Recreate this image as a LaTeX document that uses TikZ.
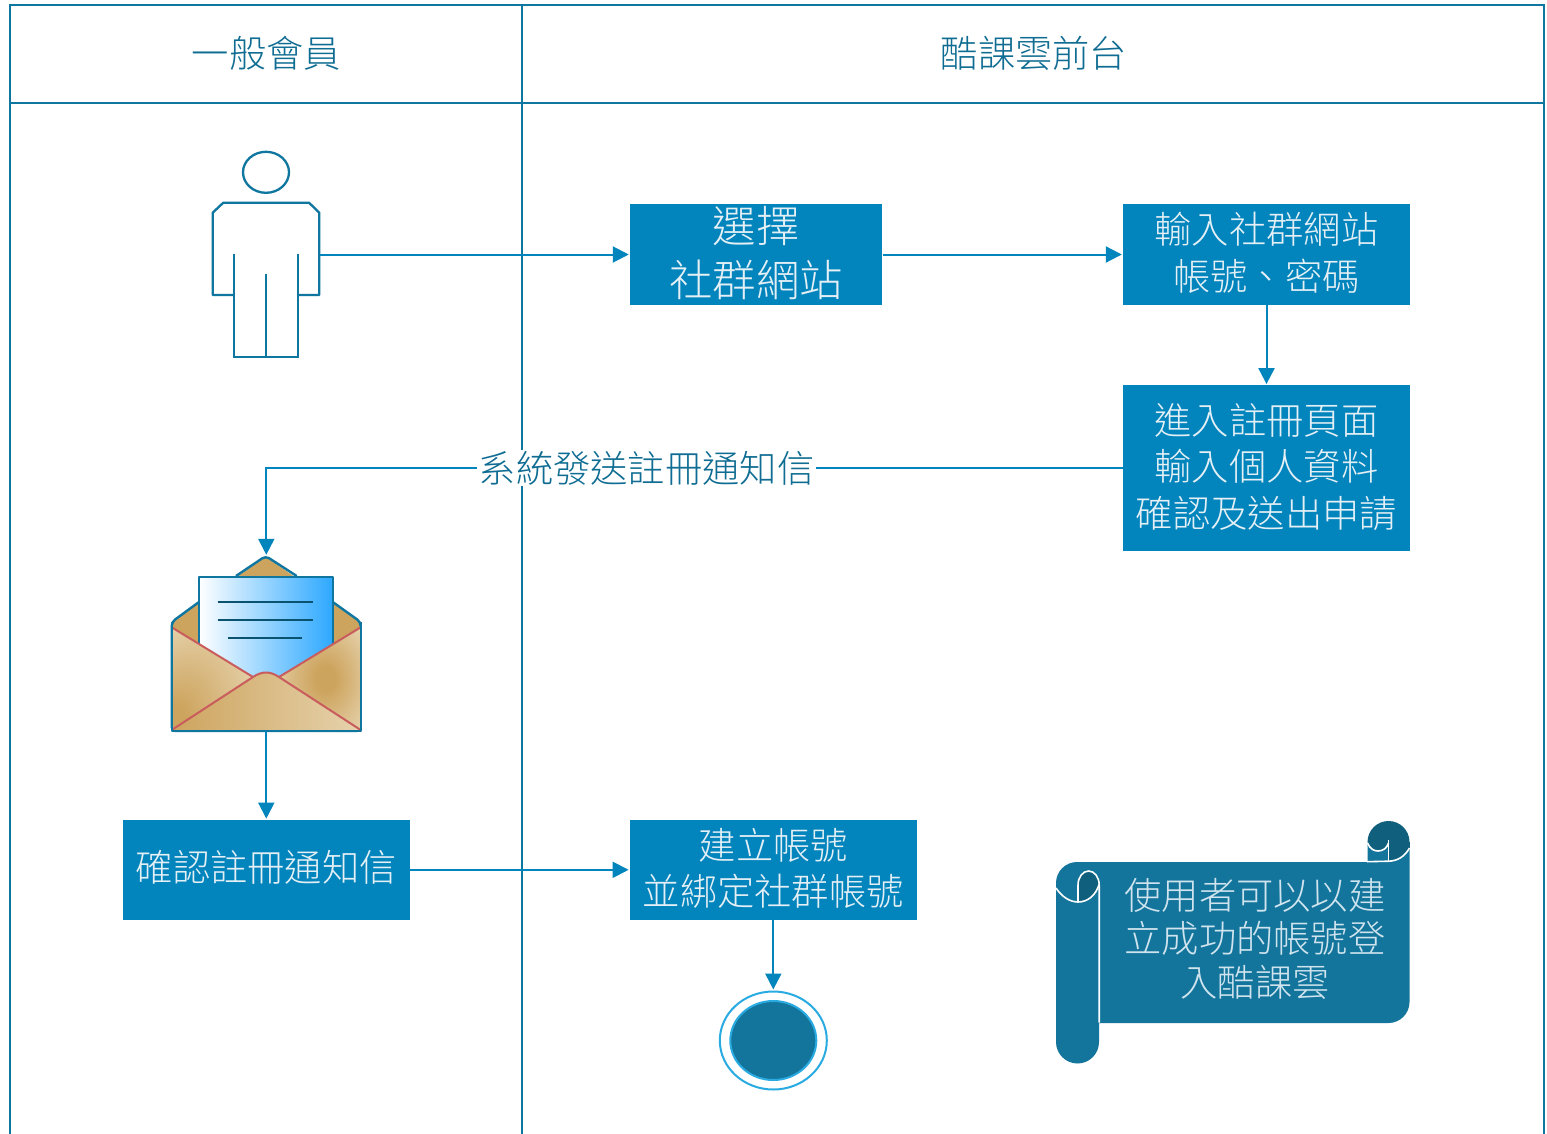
\documentclass[tikz,border=0pt]{standalone}
\usepackage{fontspec}
\setmainfont{Noto Sans CJK TC Light}
\usetikzlibrary{arrows.meta,shapes.geometric}
\definecolor{lane}{HTML}{0F76A0}
\definecolor{boxblue}{HTML}{0284BC}
\definecolor{labelc}{HTML}{0F6C92}
\definecolor{boxtext}{HTML}{E4F0F6}
\definecolor{scrollc}{HTML}{14759C}
\definecolor{scrolld}{HTML}{105F7D}
\definecolor{scrollt}{HTML}{CFE4EE}
\definecolor{tan}{HTML}{CDA45E}
\definecolor{lighttan}{HTML}{E6D2AC}
\definecolor{flapred}{HTML}{C95C5C}
\definecolor{ringc}{HTML}{29ABE2}
\definecolor{paperR}{HTML}{2DA8FF}
\definecolor{paperM}{HTML}{C4E3FF}
\pgfdeclareradialshading{flapR}{\pgfpoint{4bp}{0bp}}{color(0bp)=(tan);color(6bp)=(tan);color(34bp)=(lighttan);color(50bp)=(lighttan)}
\pgfdeclareradialshading{flapL}{\pgfpoint{-26bp}{-22bp}}{color(0bp)=(tan);color(6bp)=(tan);color(36bp)=(lighttan);color(50bp)=(lighttan)}
\tikzset{
  lanestroke/.style={draw=lane,line width=2.2pt},
  flow/.style={draw=boxblue,line width=2pt,-{Triangle[length=16pt,width=16pt]},shorten >=1pt},
  stepbox/.style={fill=boxblue,text=boxtext,inner sep=0pt,align=center,text depth=6pt,font=\fontsize{37.3}{46.5}\selectfont},
  stepbig/.style={stepbox,text depth=6pt,font=\fontsize{43.4}{54}\selectfont},
  lanehead/.style={text=labelc,font=\fontsize{37.3}{46}\selectfont,inner sep=0pt},
  hotspot/.style={inner sep=0pt,minimum width=#1,minimum height=1pt},
  person/.style={draw=lane,line width=2.3pt},
  envline/.style={draw=lane,line width=2.4pt,line join=round},
  flapline/.style={draw=flapred,line width=2pt,line join=round},
  paperline/.style={draw=lane!70!black,line width=1.8pt},
  scrolledge/.style={draw=white,line width=1.6pt},
}
\begin{document}
\begin{tikzpicture}[x=1pt,y=-1pt]
\useasboundingbox (0,0) rectangle (1547,1134);
\fill[white] (0,0) rectangle (1547,1134);
% lanes
\draw[lanestroke] (10,1134) -- (10,5) -- (1544,5) -- (1544,1134);
\draw[lanestroke] (10,103) -- (1544,103);
\draw[lanestroke] (522,5) -- (522,1134);
\node[lanehead] (headA) at (266.3,53) {一般會員};
\node[lanehead] (headB) at (1034,53) {酷課雲前台};
% person
\draw[person] (266,172.3) ellipse[x radius=23pt,y radius=20.5pt];
\draw[person,line join=round] (234,295) -- (212.7,295) -- (212.7,212.7) -- (223.3,202.7) -- (309,202.7) -- (319.3,212.7) -- (319.3,295) -- (297.7,295);
\draw[person] (234,254) -- (234,356.7) -- (297.7,356.7) -- (297.7,254);
\draw[person] (266,274.3) -- (266,356.7);
\node[hotspot=106.6pt] (user) at (266,254.5) {};
% boxes
\node[stepbig,minimum width=252.5pt,minimum height=100pt] (pick) at (756.2,254.5) {選擇\\社群網站};
\node[stepbox,minimum width=287pt,minimum height=100pt] (account) at (1266.5,254.5) {輸入社群網站\\帳號、密碼};
\node[stepbox,minimum width=287pt,minimum height=166pt] (enter) at (1266.5,468.3) {進入註冊頁面\\輸入個人資料\\確認及送出申請};
\node[stepbox,text depth=8pt,minimum width=287pt,minimum height=100pt] (confirm) at (266.3,869.8) {確認註冊通知信};
\node[stepbox,minimum width=287pt,minimum height=100pt] (create) at (773.3,869.8) {建立帳號\\並綁定社群帳號};
% end
\node[draw=ringc,line width=2pt,fill=white,shape=ellipse,inner sep=0pt,minimum width=107pt,minimum height=98pt] (finish) at (773.3,1040.5) {};
\fill[scrollc,draw=ringc,line width=2pt] (773.3,1040.5) ellipse[x radius=43pt,y radius=39.5pt];
% envelope
\fill[tan] (171.7,730) -- (171.7,622) -- (265.7,557) -- (360.7,622) -- (360.7,730) -- cycle;
\draw[envline,rounded corners=4pt] (199,602) -- (171.7,622) -- (171.7,731) -- (360.7,731) -- (360.7,622) -- (332.7,602);
\draw[envline,rounded corners=4pt] (236,576) -- (265.7,556) -- (296.7,576);
\shade[left color=white,middle color=paperM,right color=paperR] (199,576.7) rectangle (332.7,680);
\draw[envline] (199,646) -- (199,576.7) -- (332.7,576.7) -- (332.7,646);
\draw[paperline] (217.7,601.7) -- (312.7,601.7);
\draw[paperline] (217.7,620) -- (312.7,620);
\draw[paperline] (228,637.7) -- (302,637.7);
\shade[shading=flapL] (171.7,627.3) -- (253,677) -- (171.7,730) -- cycle;
\shade[shading=flapR] (360.7,627.3) -- (279,677) -- (360.7,730) -- cycle;
\shade[left color=tan,right color=lighttan] (171.7,730) -- (253,677) .. controls (262,671) and (270,671) .. (279,677) -- (360.7,730) -- cycle;
\draw[flapline] (171.7,627.3) -- (253,677);
\draw[flapline] (360.7,627.3) -- (279,677);
\draw[flapline] (171.7,730) -- (253,677) .. controls (262,671) and (270,671) .. (279,677) -- (360.7,730);
\draw[envline] (171.7,622) -- (171.7,731) -- (360.7,731) -- (360.7,622);
\node[inner sep=0pt,minimum width=189pt,minimum height=175pt] (mail) at (266.3,643.5) {};
% scroll: top-right curl behind the sheet
\fill[scrolld] (1388.5,842) ellipse[x radius=21pt,y radius=21pt];
\fill[scrolld] (1388.5,842) rectangle (1409.5,850);
% scroll: sheet and left roll
\fill[scrollc] (1099,1023) -- (1388.5,1023) arc[start angle=270,end angle=360,radius=21pt] -- (1409.5,848)
  .. controls (1405,856) and (1398,861) .. (1388.5,861) -- (1367,862) -- (1077,862)
  arc[start angle=90,end angle=180,radius=21pt] -- (1056,1042) arc[start angle=180,end angle=360,radius=21.5pt] -- (1099,1023) -- cycle;
% curl pocket
\fill[scrollc] (1367.5,843) .. controls (1370,849) and (1374,851) .. (1378,851) .. controls (1383,851) and (1387,848) .. (1388.5,843) -- (1388.5,861) -- (1367.5,861) -- cycle;
\draw[scrolledge] (1367.5,843) .. controls (1370,849) and (1374,851) .. (1378,851) .. controls (1383,851) and (1387,848) .. (1388.5,843);
\draw[scrolledge] (1388.5,840) -- (1388.5,861);
\draw[scrolledge] (1367,861.7) -- (1388.5,861.2) .. controls (1398,861) and (1405,856) .. (1409.5,848);
% left roll inner curl
\fill[scrolld] (1078,902) -- (1078,885) arc[start angle=180,end angle=0,x radius=10.6pt,y radius=14pt] .. controls (1096,895) and (1088,902) .. (1078,902) -- cycle;
\draw[scrolledge] (1078,902) -- (1078,885) arc[start angle=180,end angle=0,x radius=10.6pt,y radius=14pt] -- (1099.2,1022.7);
\draw[scrolledge] (1056,888) .. controls (1062,897) and (1070,902) .. (1078,902) .. controls (1088,902) and (1096,895) .. (1099.2,884);
\node[text=scrollt,inner sep=0pt,align=center,font=\fontsize{37.3}{43.5}\selectfont] (note) at (1255,938.5) {使用者可以以建\\立成功的帳號登\\入酷課雲};
% connectors
\draw[flow] (user.east) -- (pick.west);
\draw[flow] (pick.east) -- (account.west);
\draw[flow] (account.south) -- (enter.north);
\draw[flow] (enter.west) -| node[pos=0.278,fill=white,text=labelc,inner xsep=2pt,inner ysep=1pt,font=\fontsize{37.3}{46}\selectfont] (mailLabel) {系統發送註冊通知信} (mail.north);
\draw[flow] (mail.south) -- (confirm.north);
\draw[flow] (confirm.east) -- (create.west);
\draw[flow] (create.south) -- (finish.north);
\end{tikzpicture}
\end{document}
